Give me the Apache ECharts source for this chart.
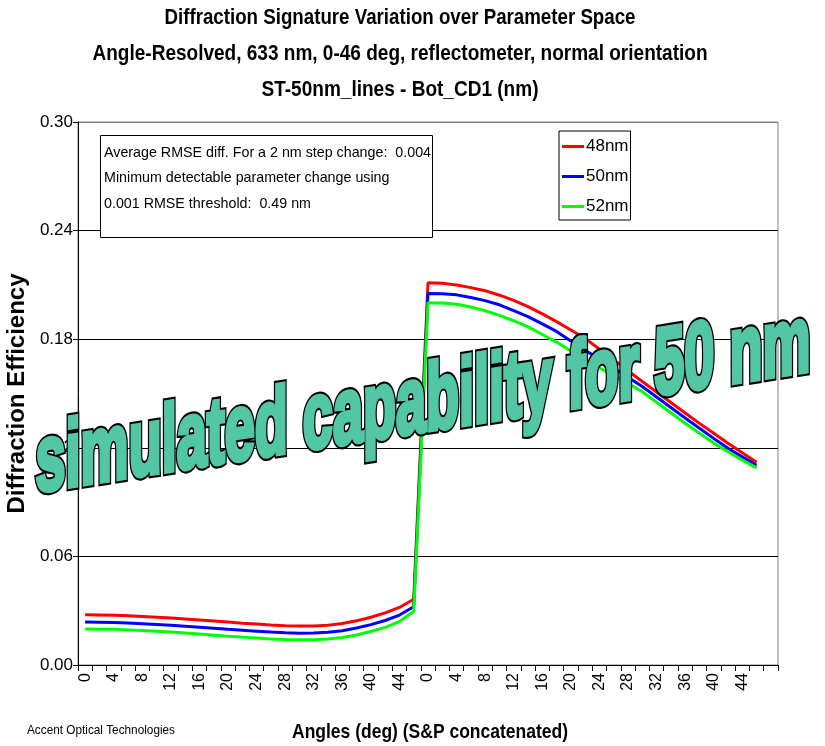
<!DOCTYPE html>
<html>
<head>
<meta charset="utf-8">
<script src="https://cdn.jsdelivr.net/npm/echarts@6/dist/echarts.min.js"></script>
<style>
html,body{margin:0;padding:0;background:#fff;}
#chart{width:825px;height:746px;}
</style>
</head>
<body>
<div id="chart"></div>
<script>
// ---- data ----
const sAngles = ['0','2','4','6','8','10','12','14','16','18','20','22','24','26','28','30','32','34','36','38','40','42','44','46'];
const pAngles = ['0','2','4','6','8','10','12','14','16','18','20','22','24','26','28','30','32','34','36','38','40','42','44','46'];
const seriesNames = ['48nm', '50nm', '52nm'];
const yTicks = [0, 0.06, 0.12, 0.18, 0.24, 0.30];

const s48 = [0.0277,0.0276,0.0275,0.0272,0.0268,0.0264,0.0259,0.0254,0.0249,0.0243,0.0237,0.0231,0.0226,0.0221,0.0217,0.0215,0.0216,0.0220,0.0229,0.0244,0.0264,0.0288,0.0318,0.0363];
const p48 = [0.2112,0.2109,0.2099,0.2085,0.2068,0.2043,0.2014,0.1980,0.1940,0.1897,0.1851,0.1804,0.1745,0.1686,0.1625,0.1566,0.1508,0.1450,0.1392,0.1335,0.1280,0.1225,0.1172,0.1120];
const s50 = [0.0237,0.0236,0.0235,0.0232,0.0228,0.0224,0.0219,0.0214,0.0209,0.0203,0.0197,0.0192,0.0187,0.0182,0.0178,0.0176,0.0177,0.0181,0.0189,0.0204,0.0223,0.0246,0.0276,0.0322];
const p50 = [0.2053,0.2051,0.2045,0.2030,0.2013,0.1990,0.1958,0.1925,0.1885,0.1843,0.1790,0.1739,0.1690,0.1640,0.1590,0.1539,0.1481,0.1423,0.1365,0.1308,0.1252,0.1198,0.1150,0.1103];
const s52 = [0.0199,0.0198,0.0197,0.0194,0.0191,0.0187,0.0182,0.0177,0.0171,0.0165,0.0159,0.0154,0.0149,0.0144,0.0141,0.0139,0.0140,0.0144,0.0152,0.0166,0.0185,0.0208,0.0240,0.0295];
const p52 = [0.2002,0.2000,0.1993,0.1978,0.1957,0.1932,0.1902,0.1868,0.1826,0.1784,0.1735,0.1688,0.1642,0.1598,0.1556,0.1510,0.1452,0.1394,0.1336,0.1280,0.1226,0.1178,0.1132,0.1089];

const titleLines = ['Diffraction Signature Variation over Parameter Space',
  'Angle-Resolved, 633 nm, 0-46 deg, reflectometer, normal orientation',
  'ST-50nm_lines - Bot_CD1 (nm)'];
const noteLines = ['Average RMSE diff. For a 2 nm step change:  0.004',
  'Minimum detectable parameter change using',
  '0.001 RMSE threshold:  0.49 nm'];
const xAxisName = 'Angles (deg) (S&P concatenated)';
const yAxisName = 'Diffraction Efficiency';
const footer = 'Accent Optical Technologies';
const wordArt = 'simulated capability for 50 nm';

// ---- build ----
const categories = sAngles.concat(pAngles).concat(['']);
const colors = ['#ff0000', '#0000ff', '#00ff00'];
const seriesData = [s48.concat(p48), s50.concat(p50), s52.concat(p52)];
const AF = "'Liberation Sans', Arial, sans-serif";

const mc = document.createElement('canvas').getContext('2d');
function fitScale(text, font, target) {
  mc.font = font;
  return target / mc.measureText(text).width;
}
const waFont = 'bold 110px ' + AF;
const waScaleX = fitScale(wordArt, waFont, 775);

const titleFont = 'bold 22px ' + AF;
const titleTargets = [471, 615, 277];
const titleY = [18, 54, 90];

const waBase = {type: 'text', x: 423, y: 405, skewY: 0.155, scaleX: waScaleX, scaleY: 0.86};

const chart = echarts.init(document.getElementById('chart'));
chart.setOption({
  animation: false,
  backgroundColor: '#fff',
  grid: {left: 78, right: 47, top: 122, bottom: 81, show: true, borderColor: '#808080', borderWidth: 1,
         backgroundColor: 'transparent', outerBoundsMode: 'none', containLabel: false},
  legend: {
    orient: 'vertical', left: 559, top: 131,
    data: seriesNames,
    icon: 'rect', itemWidth: 22, itemHeight: 3, itemGap: 13,
    borderColor: '#000', borderWidth: 1, borderRadius: 0,
    padding: [7, 2, 5, 3],
    textStyle: {fontFamily: AF, fontSize: 17, color: '#000', padding: [0,0,0,-3]}
  },
  xAxis: {
    type: 'category', data: categories, boundaryGap: true,
    axisLine: {lineStyle: {color: '#000', width: 1}},
    axisTick: {show: true, interval: 0, length: 6, lineStyle: {color: '#000'}},
    axisLabel: {interval: 1, rotate: 90, fontFamily: AF, fontSize: 16, color: '#000', margin: 8},
    splitLine: {show: false}
  },
  yAxis: {
    type: 'value', min: 0, max: 0.3, interval: 0.06,
    name: yAxisName, nameLocation: 'middle', nameGap: 38,
    nameTextStyle: {fontFamily: AF, fontWeight: 'bold', fontSize: 24, color: '#000'},
    axisLine: {show: true, lineStyle: {color: '#000', width: 1}},
    axisTick: {show: true, length: 5, lineStyle: {color: '#000'}},
    axisLabel: {fontFamily: AF, fontSize: 17, color: '#000', margin: 5,
      formatter: v => yTicks.some(t => Math.abs(t - v) < 1e-9) ? v.toFixed(2) : ''},
    splitLine: {show: true, lineStyle: {color: ['#000','#000','#000','#000','#000','#808080'], width: 1}}
  },
  series: seriesNames.map((n, i) => ({
    name: n, type: 'line', data: seriesData[i], symbol: 'none', smooth: false,
    lineStyle: {color: colors[i], width: 3}, itemStyle: {color: colors[i]}, z: 2 + i
  })),
  graphic: [
    ...titleLines.map((t, i) => ({
      type: 'text', x: 400, y: titleY[i], z: 60, scaleX: fitScale(t, titleFont, titleTargets[i]),
      style: {text: t, font: titleFont, align: 'center', verticalAlign: 'middle', fill: '#000'}
    })),
    {type: 'text', x: 430, y: 732, z: 60, scaleX: fitScale(xAxisName, 'bold 21px ' + AF, 276),
     style: {text: xAxisName, font: 'bold 21px ' + AF, align: 'center', verticalAlign: 'middle', fill: '#000'}},
    {type: 'rect', left: 100, top: 135, z: 50,
     shape: {width: 332, height: 102}, style: {fill: '#fff', stroke: '#000', lineWidth: 1}},
    {type: 'text', x: 104, y: 140, z: 51, scaleX: fitScale(noteLines[0], '15px ' + AF, 327),
     style: {text: noteLines.join('\n'), font: '15px ' + AF, lineHeight: 25.5, fill: '#000'}},
    {type: 'text', x: 27, y: 730, z: 51, scaleX: fitScale(footer, '13px ' + AF, 148),
     style: {text: footer, font: '13px ' + AF, verticalAlign: 'middle', fill: '#000'}},
    Object.assign({z: 100}, waBase, {
     style: {text: wordArt, font: waFont, align: 'center', verticalAlign: 'middle',
       fill: '#000', stroke: '#000', lineWidth: 11, lineJoin: 'round'}}),
    Object.assign({z: 101}, waBase, {
     style: {text: wordArt, font: waFont, align: 'center', verticalAlign: 'middle',
       fill: '#52c6a5', stroke: '#52c6a5', lineWidth: 6, lineJoin: 'round'}})
  ]
});
</script>
</body>
</html>
